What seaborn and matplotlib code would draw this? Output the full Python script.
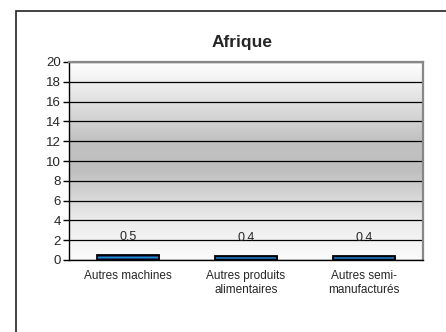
import numpy as np
import seaborn as sns
import matplotlib.pyplot as plt
from matplotlib.colors import LinearSegmentedColormap
from matplotlib.patches import Rectangle

# data
categories = ["Autres machines", "Autres produits\nalimentaires", "Autres semi-\nmanufacturés"]
values = [0.5, 0.4, 0.4]
value_labels = ["0.5", "0.4", "0.4"]
yticks = list(range(0, 21, 2))

sns.set_style("white")
plt.rcParams["font.family"] = ["Liberation Sans", "DejaVu Sans"]

fig = plt.figure(figsize=(4.46, 3.32), dpi=100)
ax = fig.add_axes([69 / 446, 72 / 332, 354 / 446, 198 / 332])

# outer frame of the chart object (only left and top edges are visible)
fig.patches.append(Rectangle((16 / 446, -0.5), 2.0, 1 - 11 / 332 + 0.5,
                             transform=fig.transFigure, fill=False,
                             edgecolor="#222222", lw=1.2))

sns.barplot(x=categories, y=values, width=0.53, color="#1a2a6c",
            edgecolor="black", linewidth=1.3, ax=ax, zorder=2)

ax.set_xlim(-0.5, 2.5)
ax.set_ylim(0, 20)

# grey plot-area gradient: white at top and bottom, grey in the middle
bg_cmap = LinearSegmentedColormap.from_list(
    "bg", [(0.0, "#fbfbfb"), (0.2, "#ececec"), (0.45, "#bfbfbf"),
           (0.6, "#c1c1c1"), (0.8, "#e0e0e0"), (1.0, "#ffffff")])
grad = np.linspace(0, 1, 256).reshape(-1, 1)
ax.imshow(grad, extent=[-0.5, 2.5, 0, 20], aspect="auto", cmap=bg_cmap,
          origin="lower", zorder=0)

# cylinder-like fill for the bars: navy with a thin cyan highlight
bar_cmap = LinearSegmentedColormap.from_list(
    "bar", [(0.0, "#0c1240"), (0.3, "#1a2a78"), (0.5, "#18c0ec"),
            (0.7, "#1a2a78"), (1.0, "#0c1240")])
for p in ax.patches:
    x0, y0 = p.get_x(), p.get_y()
    w, h = p.get_width(), p.get_height()
    im = ax.imshow(grad, extent=[x0, x0 + w, y0, y0 + h], aspect="auto",
                   cmap=bar_cmap, origin="lower", zorder=2.5)
    im.set_clip_path(p)
    p.set_facecolor("none")
    p.set_zorder(3)

ax.set_xlim(-0.5, 2.5)
ax.set_ylim(0, 20)

for i, (v, lbl) in enumerate(zip(values, value_labels)):
    ax.annotate(lbl, (i, v), xytext=(0, 13), textcoords="offset points",
                ha="center", va="center", fontsize=9, zorder=4)

ax.set_yticks(yticks)
ax.yaxis.grid(True, color="black", lw=0.9)
ax.xaxis.grid(False)
ax.set_axisbelow(True)

ax.set_xticks([-0.5, 0.5, 1.5, 2.5], minor=True)
ax.tick_params(axis="x", which="major", length=0, labelsize=8.5, pad=7)
ax.tick_params(axis="x", which="minor", length=4, width=1, color="black", direction="out")
ax.tick_params(axis="y", length=4, width=1, color="black", direction="out",
               labelsize=9.5, pad=2, left=True)

for s in ["left", "bottom"]:
    ax.spines[s].set_color("black")
    ax.spines[s].set_linewidth(1)
for s in ["top", "right"]:
    ax.spines[s].set_color("#888888")
    ax.spines[s].set_linewidth(1.6)

fig.text(242 / 446, 1 - 42 / 332, "Afrique", ha="center", va="center",
         fontsize=12.5, fontweight="bold")

fig.savefig("out.png", dpi=100)
